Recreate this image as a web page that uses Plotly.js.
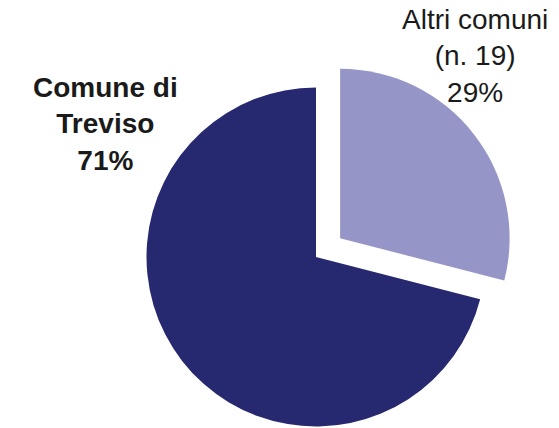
<!DOCTYPE html>
<html>
<head>
<meta charset="utf-8">
<script src="https://cdn.plot.ly/plotly-3.0.1.min.js"></script>
<style>
html, body { margin: 0; padding: 0; overflow: hidden; background: #ffffff; }
#chart { width: 559px; height: 460px; }
</style>
</head>
<body>
<div id="chart"></div>
<script>
const categories = ["Altri comuni", "Comune di Treviso"];
const labelLines = [["Altri comuni", "(n. 19)"], ["Comune di", "Treviso"]];
const shares = [29, 71];
const colors = ["#9595c8", "#262870"];
const pulls = [0.18, 0];

const W = 559, H = 460;
const dom = { x: [116 / W, 516 / W], y: [1 - 457 / H, 1 - 57 / H] };

const labelPos = [
  { x: 475 / W, y: 1 - 56 / H, bold: false },
  { x: 105 / W, y: 1 - 124 / H, bold: true }
];

const annotations = categories.map((c, i) => {
  const lines = labelLines[i].concat([shares[i] + "%"]);
  const t = lines.join("<br>");
  return {
    xref: "paper", yref: "paper",
    x: labelPos[i].x, y: labelPos[i].y,
    xanchor: "center", yanchor: "middle",
    showarrow: false, align: "center",
    text: labelPos[i].bold ? "<b>" + t + "</b>" : t,
    font: { family: "Liberation Sans, Arial, sans-serif", size: 28, color: "#1a1a1a" }
  };
});

const trace = {
  type: "pie",
  labels: categories,
  values: shares,
  sort: false,
  direction: "clockwise",
  rotation: 0,
  pull: pulls,
  marker: { colors: colors, line: { width: 0 } },
  textinfo: "none",
  hoverinfo: "none",
  domain: dom,
  showlegend: false
};

Plotly.newPlot("chart", [trace], {
  width: W, height: H,
  margin: { l: 0, r: 0, t: 0, b: 0 },
  paper_bgcolor: "#ffffff",
  plot_bgcolor: "#ffffff",
  showlegend: false,
  annotations: annotations
}, { displayModeBar: false, staticPlot: true });
</script>
</body>
</html>
